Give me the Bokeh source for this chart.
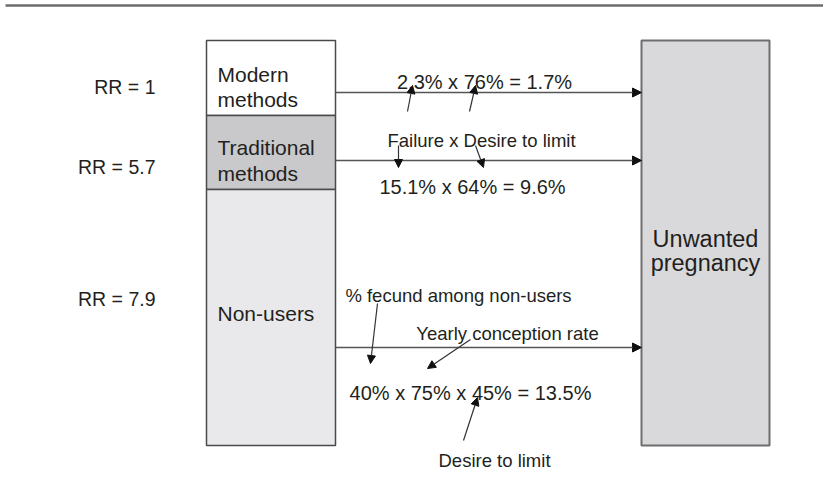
from bokeh.plotting import figure
from bokeh.models import Range1d, ColumnDataSource, Arrow, NormalHead
from bokeh.core.properties import value
from bokeh.embed import file_html
from bokeh.resources import INLINE

# ---- data ----
groups = ["Modern methods", "Traditional methods", "Non-users"]
group_lines = [["Modern", "methods"], ["Traditional", "methods"], ["Non-users"]]
rr = [1, 5.7, 7.9]
failure = [2.3, 15.1]          # % failure (modern, traditional)
desire = [76, 64]              # % desire to limit (modern, traditional)
unwanted = [1.7, 9.6]          # resulting % unwanted pregnancy
nonuser_factors = [40, 75, 45]  # % fecund, yearly conception rate, desire to limit
nonuser_result = 13.5
outcome_lines = ["Unwanted", "pregnancy"]

FONT = value("Liberation Sans")
TXT = "#231f20"

W, H = 823, 484
p = figure(width=W, height=H, output_backend="svg", toolbar_location=None,
           x_range=Range1d(0, W), y_range=Range1d(H, 0),
           min_border=0, outline_line_color=None)
p.axis.visible = False
p.grid.visible = False
p.background_fill_color = "white"
p.border_fill_color = "white"

# top rule
p.line([5, 831], [5, 5], line_color="#6b6b6b", line_width=2.5)

# left stacked boxes
band_top = [40, 115, 189]
band_bot = [115, 189, 445]
band_fill = ["#ffffff", "#c9c9cb", "#e9e9eb"]
p.quad(left=206, right=335, top=band_top, bottom=band_bot,
       fill_color=band_fill, line_color="#4a4a4a", line_width=1.5)
# right outcome box
p.quad(left=[641], right=[769], top=[40], bottom=[445],
       fill_color="#d9d9db", line_color="#6e6e6e", line_width=2)

# box labels
lab_x, lab_y, lab_t = [], [], []
baselines = [[74, 98.5], [146.5, 173], [312.5]]
for lines, bl in zip(group_lines, baselines):
    for t, yb in zip(lines, bl):
        lab_x.append(217); lab_y.append(yb); lab_t.append(t)
p.text(x=lab_x, y=lab_y, text=lab_t, text_font=FONT, text_font_size="21px",
       text_color=TXT, text_baseline="alphabetic", text_align="left")

# RR labels
p.text(x=[155] * 3, y=[86, 166, 298], text=[f"RR = {v:g}" for v in rr],
       text_font=FONT, text_font_size="19.5px", text_color=TXT,
       text_baseline="alphabetic", text_align="right")

# outcome label
p.text(x=[705, 705], y=[238, 262], text=outcome_lines, text_font=FONT,
       text_font_size="23.5px", text_color=TXT, text_baseline="alphabetic",
       text_align="center")

# formulas
formulas = [f"{failure[0]:g}% x {desire[0]:g}% = {unwanted[0]:g}%",
            f"{failure[1]:g}% x {desire[1]:g}% = {unwanted[1]:g}%",
            " x ".join(f"{v:g}%" for v in nonuser_factors) + f" = {nonuser_result:g}%"]
p.text(x=[484, 472, 470], y=[81.5, 186.5, 392.5], text=formulas, text_font=FONT,
       text_font_size="20px", text_color=TXT, text_baseline="alphabetic",
       text_align="center")

# annotation texts
notes = ["Failure x Desire to limit", "% fecund among non-users",
         "Yearly conception rate", "Desire to limit"]
p.text(x=[481, 458, 507, 494], y=[140, 295, 333, 460], text=notes,
       text_font=FONT, text_font_size="18.5px", text_color=TXT,
       text_baseline="alphabetic", text_align="center")

# main flow arrows
main = ColumnDataSource(dict(x0=[335, 335, 335], y0=[92, 160, 347],
                             x1=[641, 641, 641], y1=[92, 160, 347]))
p.add_layout(Arrow(source=main, x_start="x0", y_start="y0", x_end="x1", y_end="y1",
                   line_color="#555555", line_width=1.3,
                   end=NormalHead(size=9, fill_color="#111111", line_color="#111111")))

# small pointer arrows
small = ColumnDataSource(dict(
    x0=[407, 469, 398, 475, 377, 470, 463],
    y0=[111, 111, 145, 145, 303, 339, 440],
    x1=[412, 475, 398, 483, 370, 427, 477],
    y1=[85, 85, 167, 167, 363, 368, 397]))
p.add_layout(Arrow(source=small, x_start="x0", y_start="y0", x_end="x1", y_end="y1",
                   line_color="#333333", line_width=1.2,
                   end=NormalHead(size=8, fill_color="#111111", line_color="#111111")))

open("out.html", "w").write(file_html(p, INLINE))
